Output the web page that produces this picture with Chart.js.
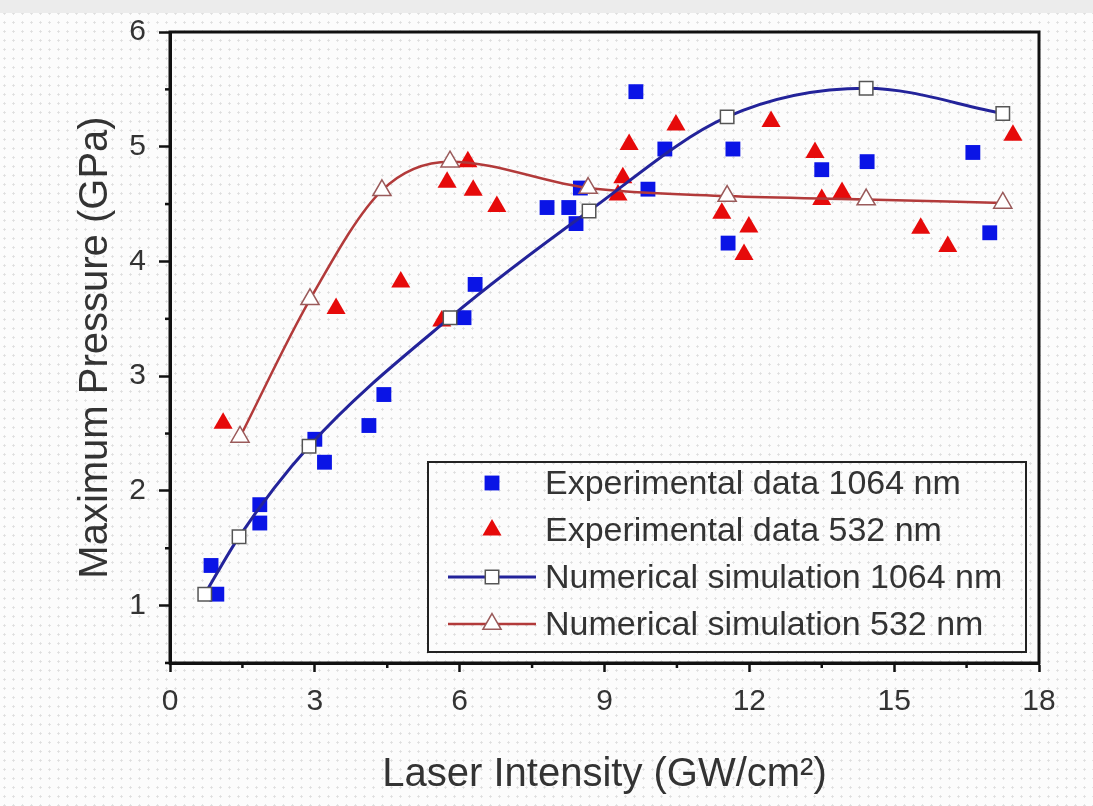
<!DOCTYPE html>
<html>
<head>
<meta charset="utf-8">
<title>Maximum Pressure vs Laser Intensity</title>
<script src="https://cdn.jsdelivr.net/npm/chart.js@4.4.1/dist/chart.umd.min.js"></script>
<style>
  html, body { margin: 0; padding: 0; }
  body {
    width: 1093px; height: 806px; overflow: hidden;
    background:
      linear-gradient(#ececec, #ececec) 0 0 / 100% 13px no-repeat,
      radial-gradient(circle, #dedede 0.9px, transparent 1.4px) 0 0 / 9px 9px,
      #fcfcfc;
  }
</style>
</head>
<body>
<canvas id="grafico-presion" width="1093" height="806"></canvas>
<script>
// Datos
const expX1064 = [0.85, 0.97, 1.86, 1.86, 3.0, 3.2, 4.12, 4.43, 6.09, 6.32, 7.81, 8.26, 8.41, 8.5, 9.65, 9.9, 10.25, 11.56, 11.66, 13.5, 14.44, 16.63, 16.98];
const expY1064 = [1.35, 1.10, 1.88, 1.72, 2.45, 2.25, 2.57, 2.84, 3.51, 3.80, 4.47, 4.47, 4.33, 4.64, 5.48, 4.63, 4.98, 4.16, 4.98, 4.80, 4.87, 4.95, 4.25];

const expX532 = [1.10, 3.44, 4.78, 5.63, 5.74, 6.17, 6.28, 6.77, 9.28, 9.38, 9.51, 10.48, 11.43, 11.99, 11.89, 12.45, 13.36, 13.50, 13.92, 15.55, 16.11, 17.46];
const expY532 = [2.59, 3.59, 3.82, 3.48, 4.69, 4.87, 4.62, 4.48, 4.58, 4.73, 5.02, 5.19, 4.42, 4.30, 4.06, 5.22, 4.95, 4.54, 4.60, 4.29, 4.13, 5.10];

const simX1064 = [0.72, 1.43, 2.88, 5.80, 8.68, 11.54, 14.42, 17.25];
const simY1064 = [1.10, 1.60, 2.39, 3.51, 4.44, 5.26, 5.51, 5.29];

const simX532 = [1.45, 2.90, 4.39, 5.80, 8.66, 11.54, 14.42, 17.25];
const simY532 = [2.47, 3.67, 4.62, 4.87, 4.64, 4.57, 4.54, 4.51];

const etiquetas = [
  "Experimental data 1064 nm",
  "Experimental data 532 nm",
  "Numerical simulation 1064 nm",
  "Numerical simulation 532 nm"
];

const fuente = "'Liberation Sans', Arial, sans-serif";
const colorTexto = "#333";

const zip = (xs, ys) => xs.map((x, i) => ({ x: x, y: ys[i] }));
const esMultiplo = (v, paso) => Math.abs(v / paso - Math.round(v / paso)) < 1e-6;

// marcas pequeñas y marco
const marcoYMarcas = {
  id: 'marcoYMarcas',
  afterDraw(chart) {
    const { ctx, chartArea, scales: { x, y } } = chart;
    ctx.save();
    ctx.strokeStyle = "#111";
    ctx.lineWidth = 2.5;
    x.ticks.forEach(t => {
      if (esMultiplo(t.value, 3)) return;
      const px = x.getPixelForValue(t.value);
      ctx.beginPath();
      ctx.moveTo(px, chartArea.bottom);
      ctx.lineTo(px, chartArea.bottom + 5);
      ctx.stroke();
    });
    y.ticks.forEach(t => {
      if (esMultiplo(t.value, 1)) return;
      const py = y.getPixelForValue(t.value);
      ctx.beginPath();
      ctx.moveTo(chartArea.left, py);
      ctx.lineTo(chartArea.left - 5, py);
      ctx.stroke();
    });
    ctx.lineWidth = 3;
    ctx.strokeRect(chartArea.left, chartArea.top, chartArea.width, chartArea.height);
    ctx.restore();
  }
};

function dibujarMarcador(ctx, estilo, x, y, r, relleno, borde, ancho) {
  ctx.beginPath();
  if (estilo === 'rect') {
    const s = r * Math.SQRT1_2;
    ctx.rect(x - s, y - s, 2 * s, 2 * s);
  } else {
    for (let k = 0; k < 3; k++) {
      const a = -Math.PI / 2 + k * 2 * Math.PI / 3;
      if (k === 0) ctx.moveTo(x + r * Math.cos(a), y + r * Math.sin(a));
      else ctx.lineTo(x + r * Math.cos(a), y + r * Math.sin(a));
    }
    ctx.closePath();
  }
  ctx.fillStyle = relleno;
  ctx.fill();
  if (ancho > 0) {
    ctx.lineWidth = ancho;
    ctx.strokeStyle = borde;
    ctx.stroke();
  }
}

const leyenda = {
  id: 'leyenda',
  afterDraw(chart) {
    const ctx = chart.ctx;
    const caja = { x: 428, y: 462, w: 598, h: 190 };
    const filas = [483, 530, 577, 624];
    ctx.save();
    ctx.strokeStyle = "#222";
    ctx.lineWidth = 2;
    ctx.strokeRect(caja.x, caja.y, caja.w, caja.h);
    // orden de la leyenda: exp 1064, exp 532, sim 1064, sim 532
    const orden = [2, 3, 0, 1];
    orden.forEach((idx, i) => {
      const ds = chart.data.datasets[idx];
      const yy = filas[i];
      if (ds.showLine) {
        ctx.strokeStyle = ds.borderColor;
        ctx.lineWidth = ds.borderWidth;
        ctx.beginPath();
        ctx.moveTo(448, yy);
        ctx.lineTo(536, yy);
        ctx.stroke();
      }
      dibujarMarcador(ctx, ds.pointStyle, 492, yy, ds.pointRadius,
        ds.pointBackgroundColor, ds.pointBorderColor, ds.pointBorderWidth);
      ctx.fillStyle = colorTexto;
      ctx.font = "34px " + fuente;
      ctx.textBaseline = "middle";
      ctx.textAlign = "left";
      ctx.fillText(ds.label, 545, yy + 2);
    });
    ctx.restore();
  }
};

new Chart(document.getElementById("grafico-presion"), {
  type: "scatter",
  data: {
    datasets: [
      {
        label: etiquetas[2],
        data: zip(simX1064, simY1064),
        showLine: true,
        cubicInterpolationMode: 'monotone',
        borderColor: "#23239a",
        borderWidth: 3,
        pointStyle: 'rect',
        pointRadius: 9.5,
        pointBackgroundColor: "#ffffff",
        pointBorderColor: "#555",
        pointBorderWidth: 1.5
      },
      {
        label: etiquetas[3],
        data: zip(simX532, simY532),
        showLine: true,
        cubicInterpolationMode: 'monotone',
        borderColor: "#b23a3a",
        borderWidth: 2.5,
        pointStyle: 'triangle',
        pointRadius: 10.5,
        pointBackgroundColor: "#ffffff",
        pointBorderColor: "#9a5a5a",
        pointBorderWidth: 1.5
      },
      {
        label: etiquetas[0],
        data: zip(expX1064, expY1064),
        pointStyle: 'rect',
        pointRadius: 10.5,
        pointBackgroundColor: "#0a14e6",
        pointBorderColor: "#0a14e6",
        pointBorderWidth: 0
      },
      {
        label: etiquetas[1],
        data: zip(expX532, expY532),
        pointStyle: 'triangle',
        pointRadius: 11,
        pointBackgroundColor: "#e60a0a",
        pointBorderColor: "#e60a0a",
        pointBorderWidth: 0
      }
    ]
  },
  options: {
    responsive: false,
    animation: false,
    devicePixelRatio: 1,
    layout: { padding: { left: 0, right: 54, top: 32, bottom: 0 } },
    plugins: {
      legend: { display: false },
      tooltip: { enabled: false }
    },
    scales: {
      x: {
        type: 'linear',
        min: 0,
        max: 18,
        afterFit: s => { s.height = 143; },
        ticks: {
          stepSize: 1.5,
          autoSkip: false,
          maxRotation: 0,
          padding: 12,
          color: colorTexto,
          font: { family: fuente, size: 30 },
          callback: v => esMultiplo(v, 3) ? Math.round(v) : ''
        },
        grid: {
          drawOnChartArea: false,
          tickLength: 9,
          tickWidth: 2.5,
          tickColor: c => (c.tick && esMultiplo(c.tick.value, 3)) ? "#111" : "rgba(0,0,0,0)"
        },
        border: { display: true, color: "#111", width: 3 },
        title: {
          display: true,
          text: "Laser Intensity (GW/cm²)",
          color: colorTexto,
          font: { family: fuente, size: 40 },
          padding: { top: 0, bottom: 7 }
        }
      },
      y: {
        type: 'linear',
        min: 0.5,
        max: 6,
        afterFit: s => { s.width = 170; },
        ticks: {
          stepSize: 0.5,
          autoSkip: false,
          padding: 13,
          color: colorTexto,
          font: { family: fuente, size: 30 },
          callback: v => esMultiplo(v, 1) ? Math.round(v) : ''
        },
        grid: {
          drawOnChartArea: false,
          tickLength: 11,
          tickWidth: 2.5,
          tickColor: c => (c.tick && esMultiplo(c.tick.value, 1)) ? "#111" : "rgba(0,0,0,0)"
        },
        border: { display: true, color: "#111", width: 3 },
        title: {
          display: true,
          text: "Maximum Pressure (GPa)",
          color: colorTexto,
          font: { family: fuente, size: 40 },
          padding: { top: 72, bottom: 0 }
        }
      }
    }
  },
  plugins: [marcoYMarcas, leyenda]
});
</script>
</body>
</html>
